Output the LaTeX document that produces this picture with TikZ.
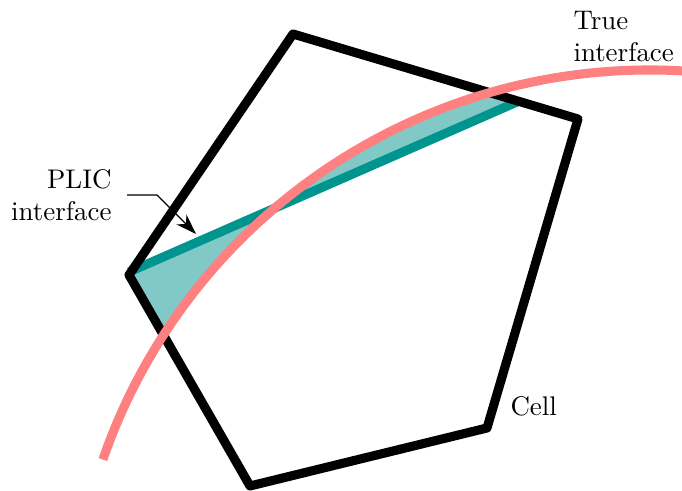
\documentclass[tikz,border=0pt]{standalone}
\usetikzlibrary{arrows.meta}
\definecolor{plicteal}{RGB}{0,148,143}
\definecolor{truered}{RGB}{255,128,128}

\begin{document}
\begin{tikzpicture}[x=0.3861pt, y=0.3861pt,
    cellline/.style={line width=3.5pt, line join=round, black},
    plicline/.style={line width=3.5pt, plicteal},
    trueline/.style={line width=3.5pt, truered},
    lbl/.style={inner sep=0pt, font=\fontsize{10.4}{12.6}\selectfont}]
  \useasboundingbox (0,0) rectangle (682,491);

  % cell corners
  \coordinate (A) at (293,457);
  \coordinate (B) at (578,372);
  \coordinate (C) at (487,63);
  \coordinate (D) at (250,5);
  \coordinate (E) at (129,216);
  % PLIC line and true interface circle
  \coordinate (p1) at (129,219);
  \coordinate (p2) at (517,389);
  \coordinate (O) at (650,-158);

  % area between the two interfaces
  \begin{scope}
    \clip (A) -- (B) -- (C) -- (D) -- (E) -- cycle;
    \fill[plicteal!50, even odd rule] (0,162.6) -- (700,468.5) -- (700,600) -- (0,600) -- cycle
      (O) circle (579) (-10,-800) rectangle (700,600);
  \end{scope}

  \draw[plicline] (p1) -- (p2);
  \draw[cellline] (A) -- (B) -- (C) -- (D) -- (E) -- cycle;
  \draw[trueline] (O) ++(160.9:579) arc[start angle=160.9, end angle=85, radius=579];

  \node[lbl, align=right, anchor=base east] (plic) at (112,270.3) {PLIC\\interface};
  \node[lbl, align=left, anchor=base west] (true) at (573,429) {True\\interface};
  \node[lbl, anchor=base west] (cell) at (510,75) {Cell};

  \coordinate (tip) at (196,257);
  \draw[-{Stealth[length=8pt,width=5.5pt]}, line width=0.5pt] (plic.east) ++(15,0) -- ++(30,0) -- (tip);
\end{tikzpicture}
\end{document}
